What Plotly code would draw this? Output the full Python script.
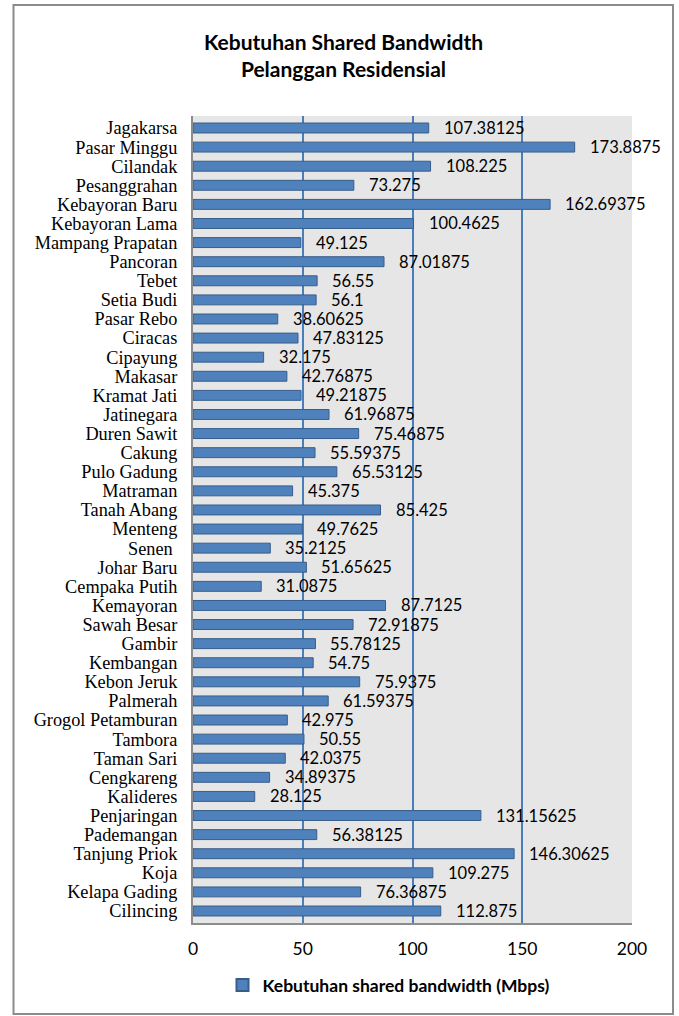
import plotly.graph_objects as go

categories = ["Jagakarsa", "Pasar Minggu", "Cilandak", "Pesanggrahan", "Kebayoran Baru",
              "Kebayoran Lama", "Mampang Prapatan", "Pancoran", "Tebet", "Setia Budi",
              "Pasar Rebo", "Ciracas", "Cipayung", "Makasar", "Kramat Jati", "Jatinegara",
              "Duren Sawit", "Cakung", "Pulo Gadung", "Matraman", "Tanah Abang", "Menteng",
              "Senen ", "Johar Baru", "Cempaka Putih", "Kemayoran", "Sawah Besar", "Gambir",
              "Kembangan", "Kebon Jeruk", "Palmerah", "Grogol Petamburan", "Tambora",
              "Taman Sari", "Cengkareng", "Kalideres", "Penjaringan", "Pademangan",
              "Tanjung Priok", "Koja", "Kelapa Gading", "Cilincing"]
values = [107.38125, 173.8875, 108.225, 73.275, 162.69375, 100.4625, 49.125, 87.01875,
          56.55, 56.1, 38.60625, 47.83125, 32.175, 42.76875, 49.21875, 61.96875,
          75.46875, 55.59375, 65.53125, 45.375, 85.425, 49.7625, 35.2125, 51.65625,
          31.0875, 87.7125, 72.91875, 55.78125, 54.75, 75.9375, 61.59375, 42.975,
          50.55, 42.0375, 34.89375, 28.125, 131.15625, 56.38125, 146.30625, 109.275,
          76.36875, 112.875]
labels = ["107.38125", "173.8875", "108.225", "73.275", "162.69375", "100.4625", "49.125",
          "87.01875", "56.55", "56.1", "38.60625", "47.83125", "32.175", "42.76875",
          "49.21875", "61.96875", "75.46875", "55.59375", "65.53125", "45.375", "85.425",
          "49.7625", "35.2125", "51.65625", "31.0875", "87.7125", "72.91875", "55.78125",
          "54.75", "75.9375", "61.59375", "42.975", "50.55", "42.0375", "34.89375",
          "28.125", "131.15625", "56.38125", "146.30625", "109.275", "76.36875", "112.875"]
x_ticks = [0, 50, 100, 150, 200]

title_text = "<b>Kebutuhan Shared Bandwidth<br>Pelanggan Residensial</b>"
series_name = "Kebutuhan shared bandwidth (Mbps)"

L, R, T, B = 193, 47, 116, 93
W, H = 679, 1016
pw, ph = W - L - R, H - T - B

fig = go.Figure()
fig.add_trace(go.Bar(
    x=values, y=categories, orientation="h", name="<b>" + series_name + "</b>",
    marker=dict(color="#4f81bd", line=dict(color="#385d8a", width=1)),
    width=0.52, showlegend=True,
))

for v, c, t in zip(values, categories, labels):
    fig.add_annotation(x=v, y=c, text=t, showarrow=False, xanchor="left",
                       xshift=13, yshift=0,
                       font=dict(family="Lato", size=16.5, color="#000000"))

def px_x(p):
    return (p - L) / pw

def px_y(p):
    return (H - B - p) / ph

fig.add_shape(type="rect", xref="paper", yref="paper",
              x0=px_x(13.5), x1=px_x(673), y0=px_y(5), y1=px_y(1014),
              line=dict(color="#8c8c8c", width=2), fillcolor="rgba(0,0,0,0)", layer="below")

fig.update_layout(
    width=W, height=H,
    margin=dict(l=L, r=R, t=T, b=B),
    paper_bgcolor="#ffffff",
    plot_bgcolor="#e6e6e6",
    title=dict(text=title_text, x=px_x(343.5), xref="paper", xanchor="center",
               y=1 - 50 / H, yanchor="middle",
               font=dict(family="Lato", size=21, color="#000000")),
    xaxis=dict(range=[0, 200], tickvals=x_ticks, showgrid=True, gridcolor="#4a7ebb",
               gridwidth=1.5, zeroline=False, showline=True, linecolor="#8c8c8c",
               linewidth=2, ticks="outside", ticklen=9, tickcolor="rgba(0,0,0,0)",
               tickfont=dict(family="Lato", size=17.5, color="#000000"), fixedrange=True),
    yaxis=dict(autorange="reversed", showgrid=False, showline=True, linecolor="#8c8c8c",
               linewidth=2, ticks="outside", ticklen=10, tickcolor="rgba(0,0,0,0)",
               tickmode="array", tickvals=categories, ticktext=categories,
               tickfont=dict(family="Liberation Serif", size=18.3, color="#000000"),
               fixedrange=True),
    bargap=0.48,
    legend=dict(orientation="h", x=px_x(389), xanchor="center", y=px_y(985),
                yanchor="middle", font=dict(family="Lato", size=17.5, color="#000000"),
                itemsizing="constant", bgcolor="rgba(0,0,0,0)"),
    showlegend=True,
)

fig.write_html("out.html")
